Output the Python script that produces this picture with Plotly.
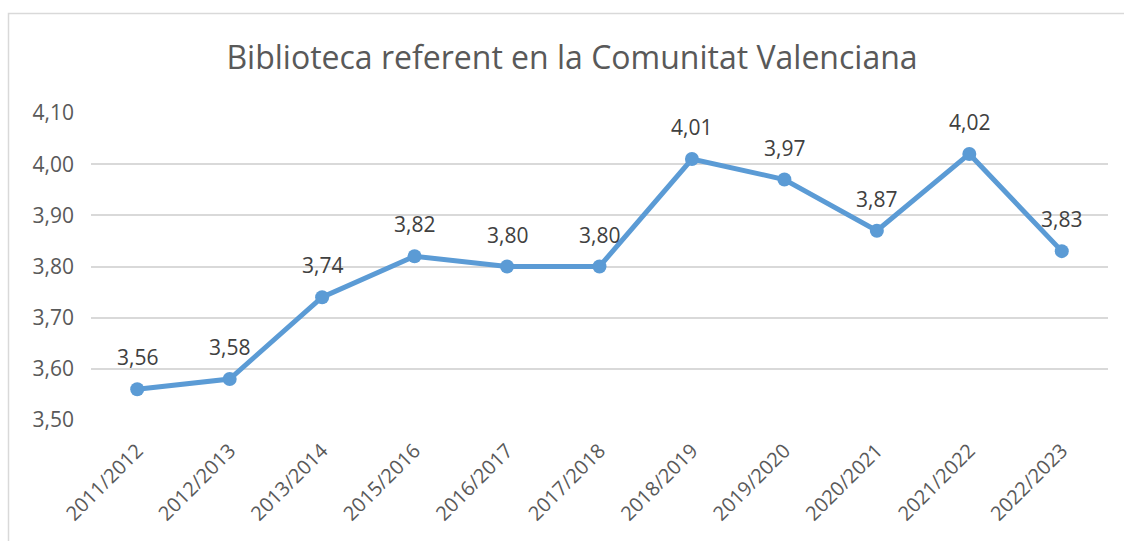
import plotly.graph_objects as go

categories = ["2011/2012", "2012/2013", "2013/2014", "2015/2016", "2016/2017", "2017/2018",
              "2018/2019", "2019/2020", "2020/2021", "2021/2022", "2022/2023"]
values = [3.56, 3.58, 3.74, 3.82, 3.80, 3.80, 4.01, 3.97, 3.87, 4.02, 3.83]
y_ticks = [3.50, 3.60, 3.70, 3.80, 3.90, 4.00, 4.10]

font_family = "Open Sans, Liberation Sans, sans-serif"

fig = go.Figure()
fig.add_trace(go.Scatter(
    x=categories, y=values, mode="lines+markers",
    line=dict(color="#5B9BD5", width=5),
    marker=dict(color="#5B9BD5", size=14),
    hoverinfo="skip", showlegend=False,
))

for c, v in zip(categories, values):
    fig.add_annotation(x=c, y=v, text=f"{v:.2f}".replace(".", ","), showarrow=False,
                       yshift=32, font=dict(size=21, color="#404040", family=font_family))

W, H = 1124, 541
l, r, t, b = 91, 16, 113, 121
pw, ph = W - l - r, H - t - b

fig.add_shape(type="rect", xref="paper", yref="paper",
              x0=(8.5 - l) / pw, x1=(1140 - l) / pw,
              y0=(H - b - 570) / ph, y1=(H - b - 13.5) / ph,
              line=dict(color="#D9D9D9", width=1.5), fillcolor="rgba(0,0,0,0)", layer="below")

fig.update_layout(
    width=W, height=H,
    margin=dict(l=l, r=r, t=t, b=b),
    paper_bgcolor="white", plot_bgcolor="white",
    separators=", ",
    title=dict(text="Biblioteca referent en la Comunitat Valenciana",
               x=572 / W, xanchor="center", y=1 - 58 / H, yanchor="middle",
               font=dict(size=32, color="#595959", family=font_family)),
    xaxis=dict(type="category", range=[-0.5, len(categories) - 0.5],
               tickangle=-45, showgrid=False, showline=False, zeroline=False,
               ticks="", ticklabelstandoff=14,
               tickfont=dict(size=20, color="#595959", family=font_family)),
    yaxis=dict(range=[3.5, 4.1], tickvals=y_ticks, tickformat=".2f",
               showgrid=True, gridcolor="#D9D9D9", gridwidth=1.5, zeroline=False,
               showline=False, ticks="", ticklabelstandoff=16,
               tickfont=dict(size=21, color="#595959", family=font_family)),
)

fig.write_html("out.html", config={"displayModeBar": False},
               post_script="document.body.style.margin='0';document.body.style.overflow='hidden';")
